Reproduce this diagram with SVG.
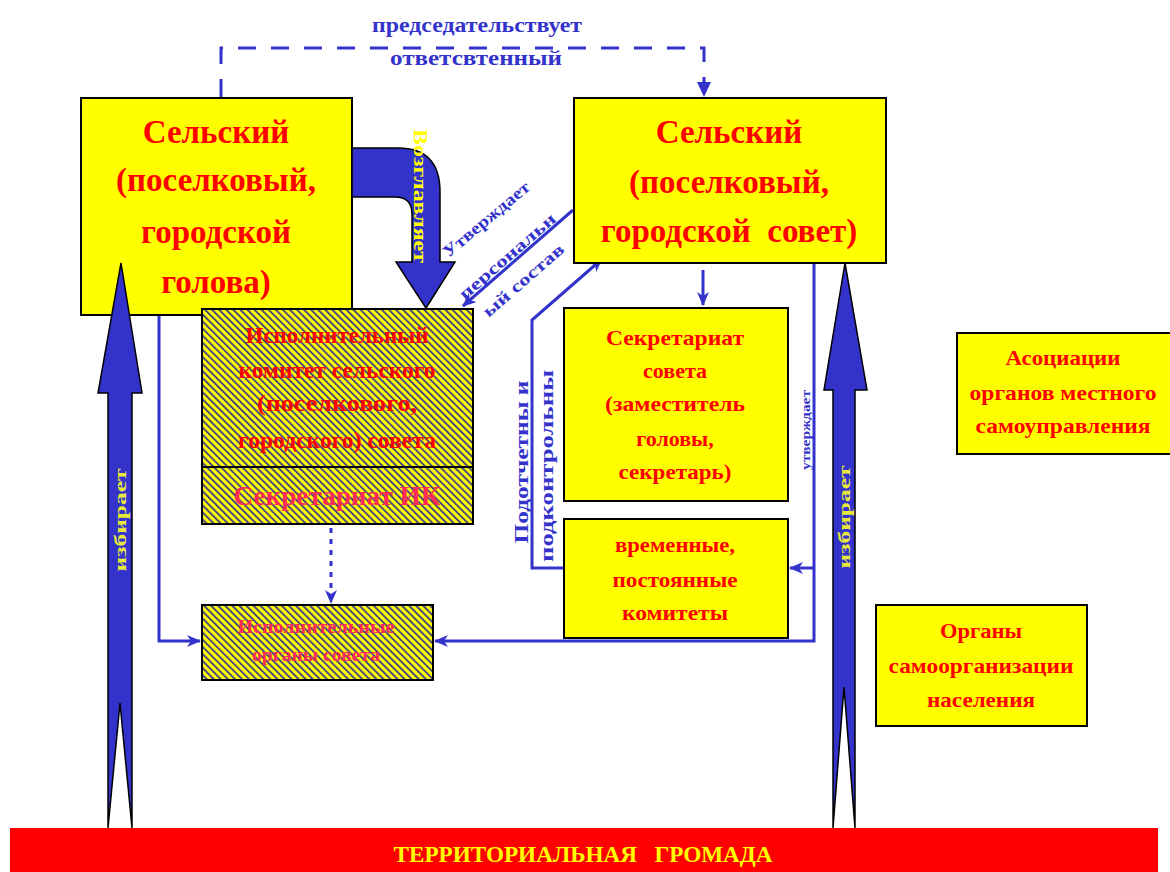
<svg xmlns="http://www.w3.org/2000/svg" width="1170" height="872" viewBox="0 0 1170 872">
<defs>
<style>
.box{fill:#ffff00;stroke:#000;stroke-width:2}
.hbox{fill:url(#hatch);stroke:#000;stroke-width:2}
.tr{fill:#ff0000;font-family:'Liberation Serif','Times New Roman',serif;font-weight:bold;text-anchor:middle}
.tp{fill:#ff2a55;font-family:'Liberation Serif','Times New Roman',serif;font-weight:bold;text-anchor:middle}
.tb{fill:#3333cc;font-family:'Liberation Serif','Times New Roman',serif;font-weight:bold;text-anchor:middle}
.ty{fill:#ffff00;font-family:'Liberation Serif','Times New Roman',serif;font-weight:bold;text-anchor:middle}
.conn{stroke:#3333cc;stroke-width:3;fill:none}
.big{fill:#3333cc;stroke:#000;stroke-width:1.5;stroke-linejoin:miter}
</style>
<pattern id="hatch" width="5" height="5" patternUnits="userSpaceOnUse" patternTransform="rotate(-45)">
<rect width="5" height="5" fill="#ffff00"/>
<rect width="1.8" height="5" fill="#3a3a8a"/>
</pattern>
<marker id="ah" markerWidth="14" markerHeight="12" refX="13" refY="6" orient="auto" markerUnits="userSpaceOnUse">
<path d="M0,0 L14,6 L0,12 L4,6 Z" fill="#3333cc"/>
</marker>
</defs>
<rect width="1170" height="872" fill="#ffffff"/>

<g id="connectors">
<path class="conn" d="M221,97 L221,48 L704,48 L704,82" stroke-dasharray="18 15" stroke-width="4"/>
<path d="M697,82 L711,82 L704,97 Z" fill="#3333cc"/>
<path class="conn" d="M159,270 L159,641 L200,641" marker-end="url(#ah)"/>
<path class="conn" d="M814,262 L814,641 L435,641" marker-end="url(#ah)"/>
<path class="conn" d="M814,568 L790,568" marker-end="url(#ah)"/>
<path class="conn" d="M703,270 L703,305" marker-end="url(#ah)"/>
<path class="conn" d="M564,568 L532,568 L532,320 L602,259" marker-end="url(#ah)"/>
<path class="conn" d="M573,210 L463,306" marker-end="url(#ah)"/>
<path class="conn" d="M330,443 L330,465" marker-end="url(#ah)"/>
<path class="conn" d="M331,528 L331,603" stroke-dasharray="5 6" marker-end="url(#ah)"/>
</g>

<g id="node-golova">
<rect class="box" x="81" y="98" width="271" height="217"/>
<text class="tr" font-size="33" x="216" y="143">Сельский</text>
<text class="tr" font-size="33" x="216" y="191">(поселковый,</text>
<text class="tr" font-size="33" x="216" y="243">городской</text>
<text class="tr" font-size="33" x="216" y="293">голова)</text>
</g>

<g id="node-sovet">
<rect class="box" x="574" y="98" width="312" height="165"/>
<text class="tr" font-size="33" x="729" y="143">Сельский</text>
<text class="tr" font-size="33" x="729" y="193">(поселковый,</text>
<text class="tr" font-size="33" x="729" y="242" xml:space="preserve">городской  совет)</text>
</g>

<g id="node-ispolkom">
<rect class="hbox" x="202" y="309" width="271" height="158"/>
<text class="tr" font-size="23" x="337" y="343" textLength="183" lengthAdjust="spacingAndGlyphs">Исполнительный</text>
<text class="tr" font-size="23" x="337" y="378" textLength="197" lengthAdjust="spacingAndGlyphs">комитет сельского</text>
<text class="tr" font-size="23" x="337" y="411" textLength="160" lengthAdjust="spacingAndGlyphs">(поселкового,</text>
<text class="tr" font-size="23" x="337" y="448" textLength="198" lengthAdjust="spacingAndGlyphs">городского) совета</text>
</g>

<g id="node-sekretariat-ik">
<rect class="hbox" x="202" y="467" width="271" height="57" stroke-width="2.5"/>
<text class="tp" font-size="27" x="337" y="505" textLength="207" lengthAdjust="spacingAndGlyphs">Секретариат ИК</text>
</g>

<g id="node-ispolnitelnye">
<rect class="hbox" x="202" y="605" width="231" height="75"/>
<text class="tp" font-size="18" x="316" y="633" textLength="157" lengthAdjust="spacingAndGlyphs">Исполнительные</text>
<text class="tp" font-size="18" x="316" y="661" textLength="128" lengthAdjust="spacingAndGlyphs">органы совета</text>
</g>

<g id="node-sekretariat-soveta">
<rect class="box" x="564" y="308" width="224" height="193"/>
<text class="tr" font-size="22" x="675" y="345" textLength="138" lengthAdjust="spacingAndGlyphs">Секретариат</text>
<text class="tr" font-size="22" x="675" y="378">совета</text>
<text class="tr" font-size="22" x="675" y="411" textLength="140" lengthAdjust="spacingAndGlyphs">(заместитель</text>
<text class="tr" font-size="22" x="675" y="446">головы,</text>
<text class="tr" font-size="22" x="675" y="479" textLength="113" lengthAdjust="spacingAndGlyphs">секретарь)</text>
</g>

<g id="node-komitety">
<rect class="box" x="564" y="519" width="224" height="119"/>
<text class="tr" font-size="22" x="675" y="552" textLength="120" lengthAdjust="spacingAndGlyphs">временные,</text>
<text class="tr" font-size="22" x="675" y="587" textLength="125" lengthAdjust="spacingAndGlyphs">постоянные</text>
<text class="tr" font-size="22" x="675" y="620" textLength="106" lengthAdjust="spacingAndGlyphs">комитеты</text>
</g>

<g id="node-asociacii">
<rect class="box" x="957" y="333" width="222" height="121"/>
<text class="tr" font-size="21" x="1063" y="365" textLength="115" lengthAdjust="spacingAndGlyphs">Асоциации</text>
<text class="tr" font-size="21" x="1063" y="400" textLength="187" lengthAdjust="spacingAndGlyphs">органов местного</text>
<text class="tr" font-size="21" x="1063" y="433" textLength="175" lengthAdjust="spacingAndGlyphs">самоуправления</text>
</g>

<g id="node-samoorganizacii">
<rect class="box" x="876" y="605" width="211" height="121"/>
<text class="tr" font-size="21" x="981" y="638" textLength="82" lengthAdjust="spacingAndGlyphs">Органы</text>
<text class="tr" font-size="21" x="981" y="673" textLength="185" lengthAdjust="spacingAndGlyphs">самоорганизации</text>
<text class="tr" font-size="21" x="981" y="707" textLength="108" lengthAdjust="spacingAndGlyphs">населения</text>
</g>

<g id="node-gromada">
<rect x="10" y="828" width="1148" height="44" fill="#ff0000"/>
<text class="ty" font-size="24" x="583" y="862" textLength="379" lengthAdjust="spacingAndGlyphs" xml:space="preserve">ТЕРРИТОРИАЛЬНАЯ   ГРОМАДА</text>
</g>

<g id="big-arrows">
<path class="big" d="M352,148 L398,148 Q440,148 440,192 L440,262 L455,262 L426,308 L396,262 L412,262 L412,214 Q412,197 395,197 L352,197 Z"/>
<text class="ty" font-size="18" transform="translate(420,196) rotate(90)" dy="0.35em" textLength="134" lengthAdjust="spacingAndGlyphs">Возглавляет</text>
<path class="big" d="M121,263 L142,393 L132,393 L132,828 L120,703 L108,828 L108,393 L98,393 Z"/>
<text class="ty" font-size="16" style="fill:#e8e83a" transform="translate(120,520) rotate(-90)" dy="0.35em" textLength="103" lengthAdjust="spacingAndGlyphs">избирает</text>
<path class="big" d="M845,263 L867,390 L855,390 L855,828 L844,687 L833,828 L833,390 L824,390 Z"/>
<text class="ty" font-size="16" style="fill:#e8e83a" transform="translate(844,517) rotate(-90)" dy="0.35em" textLength="103" lengthAdjust="spacingAndGlyphs">избирает</text>
</g>

<g id="labels">
<text class="tb" font-size="22" x="477" y="32" textLength="210" lengthAdjust="spacingAndGlyphs">председательствует</text>
<text class="tb" font-size="22" x="476" y="65" textLength="172" lengthAdjust="spacingAndGlyphs">ответсвтенный</text>
<text class="tb" font-size="17" transform="translate(486,219) rotate(-40)" dy="0.35em" textLength="108" lengthAdjust="spacingAndGlyphs">Утверждает</text>
<text class="tb" font-size="17" transform="translate(507,256) rotate(-41)" dy="0.35em" textLength="122" lengthAdjust="spacingAndGlyphs">персональн</text>
<text class="tb" font-size="17" transform="translate(523,280) rotate(-41)" dy="0.35em" textLength="102" lengthAdjust="spacingAndGlyphs">ый состав</text>
<text class="tb" font-size="18" transform="translate(522,462) rotate(-90)" dy="0.35em" textLength="163" lengthAdjust="spacingAndGlyphs">Подотчетны и</text>
<text class="tb" font-size="18" transform="translate(547,466) rotate(-90)" dy="0.35em" textLength="192" lengthAdjust="spacingAndGlyphs">подконтрольны</text>
<text class="tb" font-size="13" transform="translate(805,430) rotate(-90)" dy="0.35em" textLength="80" lengthAdjust="spacingAndGlyphs">утверждает</text>
</g>
</svg>
